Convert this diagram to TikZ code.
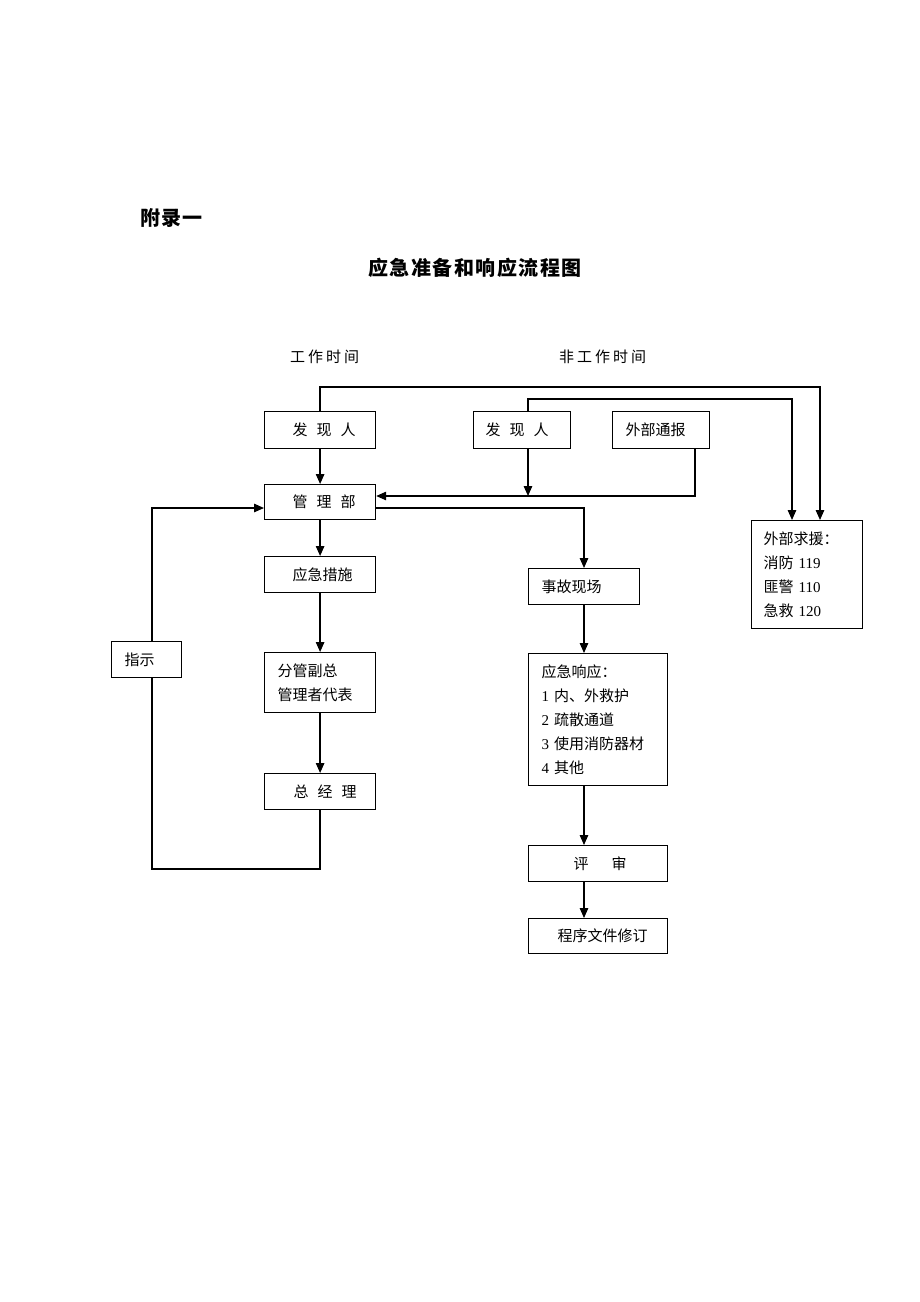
\documentclass[tikz,border=0pt]{standalone}
\usepackage{fontspec}
\setmainfont{Liberation Serif}
\newfontfamily\cjk{Noto Sans CJK SC}
\usetikzlibrary{arrows.meta}
\tikzset{
  bx/.style={draw, line width=1.2pt, inner xsep=2pt, inner ysep=0pt, align=left,
    anchor=north west, font=\cjk\fontsize{15}{24}\selectfont},
  arr/.style={line width=1.3pt, -{Triangle[length=10pt,width=8.5pt]}},
  ln/.style={line width=1.3pt},
  hd/.style={font=\cjk\fontsize{15}{18}\selectfont, inner sep=0pt},
}
\begin{document}
\begin{tikzpicture}[x=1pt,y=-1pt]
\useasboundingbox (0,0) rectangle (920,1302);
\fill[white] (0,0) rectangle (920,1302);

% headings
\node[font=\cjk\bfseries\fontsize{20}{22}\selectfont, inner sep=0pt] (app) at (171.5,218) {附\kern1pt录\kern1pt一};
\node[font=\cjk\bfseries\fontsize{20}{24}\selectfont, inner sep=0pt] (title) at (475,268) {应\kern1.5pt急\kern1.5pt准\kern1.5pt备\kern1.5pt和\kern1.5pt响\kern1.5pt应\kern1.5pt流\kern1.5pt程\kern1.5pt图};
\node[hd] (work) at (324.5,357) {工\kern3pt作\kern3pt时\kern3pt间};
\node[hd] (nowork) at (602.5,357) {非\kern3pt工\kern3pt作\kern3pt时\kern3pt间};

% boxes
\node[bx, text width=107pt, minimum height=37pt] (fx1) at (264,411) {\hspace*{26pt}发\kern9pt 现\kern9pt 人};
\node[bx, text width=107pt, minimum height=35pt] (gl) at (264,484) {\hspace*{26pt}管\kern9pt 理\kern9pt 部};
\node[bx, text width=107pt, minimum height=36pt] (yc) at (264,556) {\hspace*{26pt}应急措施};
\node[bx, text width=107pt, minimum height=60pt] (fg) at (264,652) {\hspace*{11pt}分管副总\\\hspace*{11pt}管理者代表};
\node[bx, text width=107pt, minimum height=36pt] (zjl) at (264,773) {\hspace*{27pt}总\kern9pt 经\kern9pt 理};
\node[bx, text width=66pt, minimum height=36pt] (zs) at (111,641) {\hspace*{11pt}指示};

\node[bx, text width=93pt, minimum height=37pt] (fx2) at (473,411) {\hspace*{10pt}发\kern9pt 现\kern9pt 人};
\node[bx, text width=93pt, minimum height=37pt] (wbtb) at (612,411) {\hspace*{11pt}外部通报};
\node[bx, text width=107pt, minimum height=108pt] (wbqy) at (751,520) {\hspace*{10pt}外部求援：\\\hspace*{10pt}消防 {\rmfamily 119}\\\hspace*{10pt}匪警 {\rmfamily 110}\\\hspace*{10pt}急救 {\rmfamily 120}};

\node[bx, text width=107pt, minimum height=36pt] (sgxc) at (528,568) {\hspace*{11pt}事故现场};
\node[bx, text width=135pt, minimum height=132pt] (yjxy) at (528,653) {\hspace*{11pt}应急响应：\\\hspace*{11pt}{\rmfamily 1} 内、外救护\\\hspace*{11pt}{\rmfamily 2} 疏散通道\\\hspace*{11pt}{\rmfamily 3} 使用消防器材\\\hspace*{11pt}{\rmfamily 4} 其他};
\node[bx, text width=135pt, minimum height=36pt] (ps) at (528,845) {\hspace*{43pt}评\kern23pt 审};
\node[bx, text width=135pt, minimum height=35pt] (cx) at (528,918) {\hspace*{27pt}程序文件修订};

% helper coordinates
\coordinate (t1) at (820,387);
\coordinate (t2) at (792,399);
\coordinate (f2) at (528,496);
\coordinate (e2) at (695,496);
\coordinate (k) at (584,508);
\coordinate (lx) at (152,869);

% connectors left column
\draw[arr] (fx1.south) -- (gl.north);
\draw[arr] (gl.south) -- (yc.north);
\draw[arr] (yc.south) -- (fg.north);
\draw[arr] (fg.south) -- (zjl.north);
\draw[ln] (zjl.south) |- (lx) -- (lx |- zs.south);
\draw[arr] (zs.north -| lx) |- (gl.west |- k);

% top lines to external help
\draw[arr] (fx1.north) |- (t1) -- (t1 |- wbqy.north);
\draw[arr] (fx2.north -| f2) |- (t2) -- (t2 |- wbqy.north);

% non-work time to management
\draw[arr] (fx2.south -| f2) -- (f2);
\draw[arr] (wbtb.south -| e2) -- (e2) -- (gl.east |- f2);

% right column
\draw[arr] (gl.east |- k) -| (sgxc.north -| k);
\draw[arr] (sgxc.south -| k) -- (yjxy.north -| k);
\draw[arr] (yjxy.south -| k) -- (ps.north -| k);
\draw[arr] (ps.south -| k) -- (cx.north -| k);
\end{tikzpicture}
\end{document}
